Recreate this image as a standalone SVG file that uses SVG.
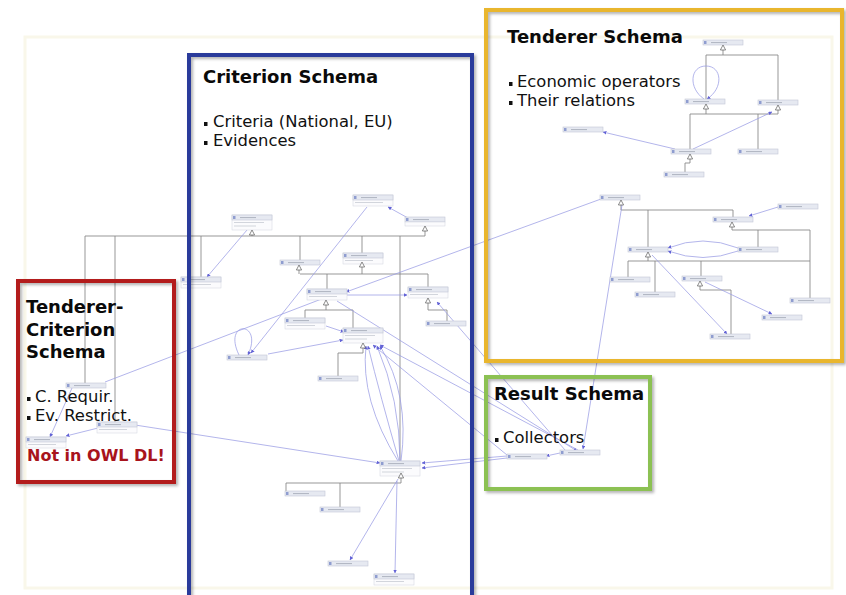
<svg xmlns="http://www.w3.org/2000/svg" xmlns:xlink="http://www.w3.org/1999/xlink" width="846" height="595" viewBox="0 0 846 595">
<style>
.n{fill:#e6e9f1;stroke:#c2c7d5;stroke-width:0.6}
.na{fill:#fbfbfd;stroke:#d0d3dd;stroke-width:0.5}
.ic{fill:#8f9dd0}
.tb{fill:#b3b8c4}
.tb2{fill:#d2d5dc}
.gen{stroke:#858585;stroke-width:0.85;fill:none}
.as{stroke:#9a9ce4;stroke-width:0.75;fill:none;marker-end:url(#ar)}
.tri{fill:#fff;stroke:#5a5a5a;stroke-width:0.7}
.fr{fill:none;stroke-width:4;filter:url(#sh)}
.h{font-family:"DejaVu Sans",Verdana,sans-serif;font-weight:bold;font-size:18px;fill:#0a0a0a}
.b{font-family:"DejaVu Sans",Verdana,sans-serif;font-size:16.4px;fill:#111}
.bu{fill:#111}
</style>
<defs>
<filter id="sh" x="-10%" y="-10%" width="125%" height="125%">
<feDropShadow dx="2" dy="2" stdDeviation="1.5" flood-color="#000" flood-opacity="0.3"/>
</filter>
<marker id="ar" viewBox="0 0 6 6" refX="5.5" refY="3" markerWidth="5" markerHeight="5" orient="auto">
<path d="M0,0 L6,3 L0,6 Z" fill="#6262d6"/>
</marker>
<path id="tri" class="tri" d="M0,0 L-2.6,5 L2.6,5 Z"/>
<g id="nd"><rect class="n" width="40" height="5"/><rect class="ic" x="1" y="1" width="2.5" height="3"/><rect class="tb" x="8" y="2" width="16" height="1.1"/></g>
<g id="nda"><rect class="na" width="40" height="11"/><rect class="n" width="40" height="5"/><rect class="ic" x="1" y="1" width="2.5" height="3"/><rect class="tb" x="8" y="2" width="16" height="1.1"/><rect class="tb2" x="2" y="7" width="28" height="1"/></g>
<g id="ndb"><rect class="na" width="40" height="15"/><rect class="n" width="40" height="5"/><rect class="ic" x="1" y="1" width="2.5" height="3"/><rect class="tb" x="8" y="2" width="16" height="1.1"/><rect class="tb2" x="2" y="7" width="30" height="1"/><rect class="tb2" x="2" y="10.5" width="22" height="1"/></g>
</defs>
<rect width="846" height="595" fill="#ffffff"/>
<rect x="25" y="37" width="807" height="551" fill="none" stroke="#f9f7ea" stroke-width="3"/>

<g id="connectors">
<path class="gen" d="M85,236 H425 M252,235 V236 M425,231 V236 M85,236 V383 M115,236 V422 M201,236 V277 M300,236 V260 M362,236 V253 M400,236 V461"/>
<path class="gen" d="M300,274 H428 M299,270 V274 M362,267 V274 M327,274 V290 M428,274 V288"/>
<path class="gen" d="M326,305 V310 M305,310 H353 M305,310 V320 M353,310 V328"/>
<path class="gen" d="M428,303 V310 H447 V321"/>
<path class="gen" d="M363,348 V353 H338 V376"/>
<path class="gen" d="M401,478 V483 M286,483 H401 M286,483 V491 M340,483 V507"/>
<path class="gen" d="M723,50 V55 M706,55 H778 M706,55 V99 M778,55 V100 M706,109 V114 M778,110 V114 M690,114 H778 M690,114 V149 M758,114 V149 M690,159 V163 H685 V172"/>
<path class="gen" d="M621,205 V210 M621,210 H733 M648,210 V247 M733,210 V217 M732,227 V230 M732,230 H810 M758,230 V247 M810,230 V298 M648,257 V261 M628,261 H810 M628,261 V277 M655,261 V292 M701,261 V277 M700,286 V290 H731 V334"/>
<path class="as" d="M247,230 L207,277"/>
<path class="as" d="M367,207 L251,353"/>
<path class="as" d="M408,218 L388,207"/>
<path class="as" d="M239,355 C222,320 264,320 248,355"/>
<path class="as" d="M268,354 L343,340"/>
<path class="as" d="M326,326 L344,332"/>
<path class="as" d="M105,382 L345,290"/>
<path class="as" d="M601,199 L346,292"/>
<path class="as" d="M345,295 L407,295"/>
<path class="as" d="M337,301 L577,451"/>
<path class="as" d="M578,450 L380,345"/>
<path class="as" d="M507,455 L373,345"/>
<path class="as" d="M565,450 L437,302"/>
<path class="as" d="M622,205 L583,449"/>
<path class="as" d="M398,461 Q360,400 366,346"/>
<path class="as" d="M399,461 Q380,395 368,346"/>
<path class="as" d="M400,461 Q400,400 377,346"/>
<path class="as" d="M401,461 Q410,395 380,346"/>
<path class="as" d="M135,425 L380,463"/>
<path class="as" d="M72,388 L50,437"/>
<path class="as" d="M98,428 L66,436"/>
<path class="as" d="M507,456 L422,463"/>
<path class="as" d="M507,458 L422,468"/>
<path class="as" d="M560,453 L546,456"/>
<path class="as" d="M398,479 L350,560"/>
<path class="as" d="M397,481 L395,573"/>
<path class="as" d="M675,149 L603,132"/>
<path class="as" d="M693,149 L772,112"/>
<path class="as" d="M704,99 C688,88 690,66 706,66 C722,66 724,88 707,99"/>
<path class="as" d="M778,207 L749,216"/>
<path class="as" d="M738,248 Q703,234 668,248"/>
<path class="as" d="M738,251 Q703,264 668,251"/>
<path class="as" d="M705,282 L772,314"/>
<path class="as" d="M652,255 L727,334"/>
</g>

<g id="nodeA"><use href="#nda" x="353" y="195"/></g>
<g id="nodeB"><use href="#nd" x="405" y="217"/><rect class="na" x="405" y="222" width="40" height="4"/><use href="#tri" x="425" y="226"/></g>
<g id="nodeC"><use href="#ndb" x="232" y="215"/><use href="#tri" x="252" y="230"/></g>
<g id="nodeD"><use href="#nda" x="181" y="277"/></g>
<g id="nodeE"><use href="#nd" x="280" y="260"/><use href="#tri" x="299" y="265"/></g>
<g id="nodeF"><use href="#nda" x="343" y="253"/><use href="#tri" x="362" y="262"/></g>
<g id="nodeG"><use href="#nda" x="307" y="289"/><use href="#tri" x="326" y="300"/></g>
<g id="nodeH"><use href="#nda" x="408" y="287"/><use href="#tri" x="428" y="298"/></g>
<g id="nodeI"><use href="#nda" x="285" y="318"/></g>
<g id="nodeJ"><use href="#ndb" x="343" y="328"/><use href="#tri" x="363" y="343"/></g>
<g id="nodeK"><use href="#nd" x="227" y="355"/></g>
<g id="nodeL"><use href="#nd" x="426" y="321"/></g>
<g id="nodeM"><use href="#nd" x="318" y="376"/></g>
<g id="nodeN"><use href="#ndb" x="380" y="461"/><use href="#tri" x="401" y="473"/></g>
<g id="nodeO"><use href="#nd" x="285" y="491"/></g>
<g id="nodeP"><use href="#nd" x="320" y="507"/></g>
<g id="nodeQ"><use href="#nd" x="328" y="561"/></g>
<g id="nodeR"><use href="#nda" x="374" y="574"/></g>
<g id="nodeS"><use href="#nd" x="66" y="383"/></g>
<g id="nodeT"><use href="#nda" x="97" y="422"/></g>
<g id="nodeU"><use href="#nda" x="26" y="437"/></g>
<g id="nodeT1"><use href="#nd" x="703" y="40"/><use href="#tri" x="723" y="45"/></g>
<g id="nodeT2"><use href="#nd" x="685" y="99"/><use href="#tri" x="706" y="104"/></g>
<g id="nodeT3"><use href="#nd" x="758" y="100"/><use href="#tri" x="778" y="105"/></g>
<g id="nodeT4"><use href="#nd" x="671" y="149"/><use href="#tri" x="690" y="154"/></g>
<g id="nodeT5"><use href="#nd" x="738" y="149"/></g>
<g id="nodeT6"><use href="#nd" x="563" y="127"/></g>
<g id="nodeT7"><use href="#nd" x="664" y="172"/></g>
<g id="nodeU1"><use href="#nd" x="600" y="195"/><use href="#tri" x="621" y="200"/></g>
<g id="nodeU2"><use href="#nd" x="713" y="217"/><use href="#tri" x="732" y="222"/></g>
<g id="nodeU3"><use href="#nd" x="628" y="247"/><use href="#tri" x="648" y="252"/></g>
<g id="nodeU4"><use href="#nd" x="778" y="204"/></g>
<g id="nodeU5"><use href="#nd" x="738" y="247"/></g>
<g id="nodeU6"><use href="#nd" x="610" y="277"/></g>
<g id="nodeU7"><use href="#nd" x="635" y="292"/></g>
<g id="nodeU8"><use href="#nd" x="790" y="298"/></g>
<g id="nodeU9"><use href="#nd" x="682" y="276"/><use href="#tri" x="700" y="281"/></g>
<g id="nodeU10"><use href="#nd" x="762" y="315"/></g>
<g id="nodeU11"><use href="#nd" x="710" y="334"/></g>
<g id="nodeV"><use href="#nd" x="507" y="454"/></g>
<g id="nodeW"><use href="#nd" x="560" y="450"/></g>

<g id="criterion-schema">
<rect class="fr" x="189" y="55" width="283" height="560" stroke="#2b3a9b"/>
<text class="h" x="203" y="83">Criterion Schema</text>
<rect class="bu" x="204" y="122" width="3.5" height="4"/>
<text class="b" x="213" y="127">Criteria (National, EU)</text>
<rect class="bu" x="204" y="141" width="3.5" height="4"/>
<text class="b" x="213" y="146">Evidences</text>
</g>
<g id="tenderer-schema">
<rect class="fr" x="486" y="10" width="356" height="351" stroke="#e9b62e"/>
<text class="h" x="507" y="43">Tenderer Schema</text>
<rect class="bu" x="509" y="82" width="3.5" height="4"/>
<text class="b" x="517" y="87">Economic operators</text>
<rect class="bu" x="509" y="101" width="3.5" height="4"/>
<text class="b" x="517" y="106">Their relations</text>
</g>
<g id="result-schema">
<rect class="fr" x="486" y="377" width="164" height="112" stroke="#8cc152"/>
<text class="h" x="494" y="400">Result Schema</text>
<rect class="bu" x="495" y="438" width="3.5" height="4"/>
<text class="b" x="503" y="443">Collectors</text>
</g>
<g id="tenderer-criterion-schema">
<rect class="fr" x="18" y="281" width="156" height="201" stroke="#b31b1b"/>
<text class="h" x="26" y="313">Tenderer-</text>
<text class="h" x="26" y="336">Criterion</text>
<text class="h" x="26" y="358">Schema</text>
<rect class="bu" x="27" y="397" width="3.5" height="4"/>
<text class="b" x="35" y="402">C. Requir.</text>
<rect class="bu" x="27" y="416" width="3.5" height="4"/>
<text class="b" x="35" y="421">Ev. Restrict.</text>
<text class="h" x="27" y="461" style="font-size:16px;fill:#a8141c">Not in OWL DL!</text>
</g>
</svg>
